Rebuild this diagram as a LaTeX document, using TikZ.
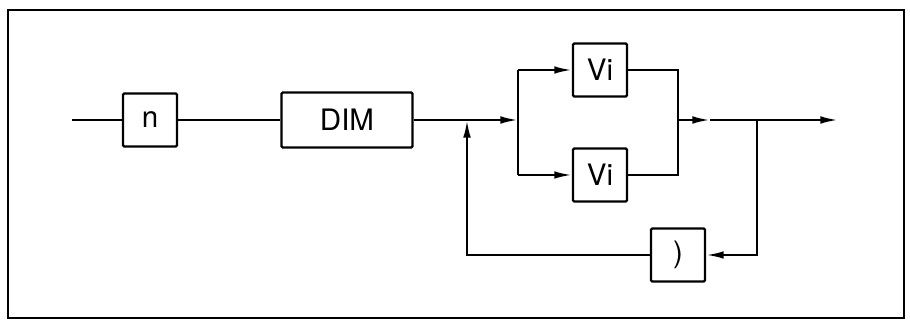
\documentclass[tikz,border=0pt]{standalone}
\usepackage{fontspec}
\setmainfont{TeX Gyre Heros}
\usetikzlibrary{arrows.meta}

\begin{document}
\begin{tikzpicture}[
      x = 0.025cm, y = -0.025cm,
      >={Latex[length=4.4mm, width=1.9mm]},
      font = \fontsize{21}{24}\selectfont,
      line width = 1.6pt,
      box/.style={
        draw,
        rounded corners = 1pt,
        minimum width = 1.35cm,
        minimum height = 1.33cm,
        inner sep = 0pt,
      },
      wide box/.style={
        box,
        minimum width = 3.28cm,
        minimum height = 1.38cm,
      },
    ]
    \useasboundingbox (0,0) rectangle (910,327);
    \draw[line width = 1.8pt] (8,10) rectangle (904,318);

    \coordinate (start) at (72,120);
    \node[box] (n) at (150,120) {n};
    \node[wide box] (dim) at (347,120) {DIM};
    \coordinate (join) at (467,120);
    \coordinate (split) at (518,120);
    \node[box] (vi1) at (600,70) {Vi};
    \node[box] (vi2) at (600,175) {Vi};
    \coordinate (merge) at (678,120);
    \coordinate (mid) at (710,120);
    \coordinate (fb) at (757,120);
    \coordinate (out) at (838,120);
    \node[box] (close) at (678,255) {)};

    \draw (start) -- (n);
    \draw (n) -- (dim);
    \draw[->] (dim) -- (split);
    \draw (split |- vi1) -- (split |- vi2);
    \draw[->] (split |- vi1) -- (vi1);
    \draw[->] (split |- vi2) -- (vi2);
    \draw (vi1) -| (merge) |- (vi2);
    \draw[->] (merge) -- (mid);
    \draw[->] (mid) -- (out);
    \draw[->] (fb) |- (close);
    \draw[->] (close) -| (join);
  \end{tikzpicture}
\end{document}
